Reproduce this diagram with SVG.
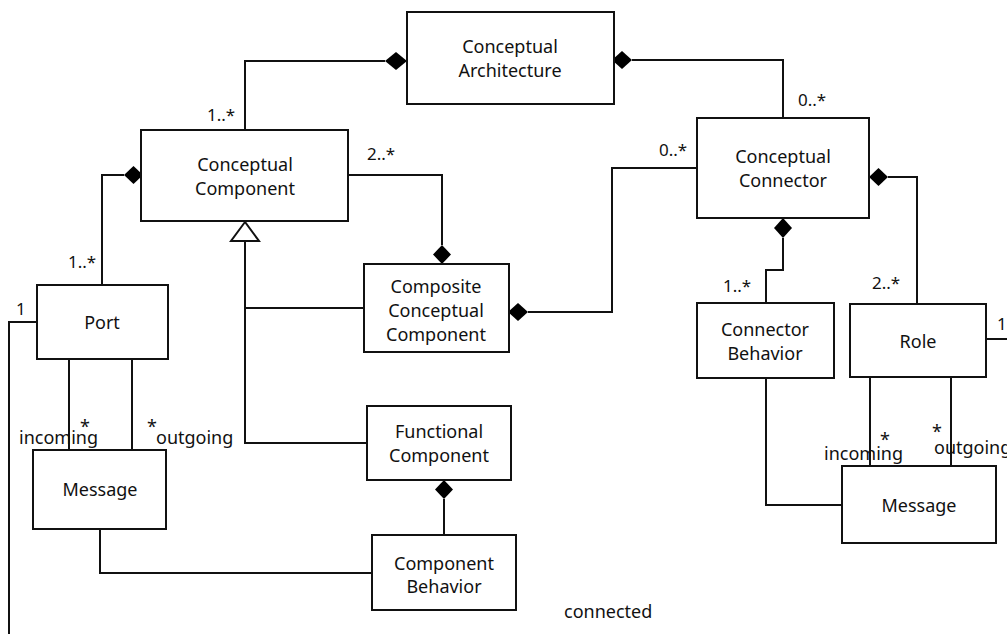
<svg xmlns="http://www.w3.org/2000/svg" width="1007" height="634" viewBox="0 0 1007 634">
<defs>
<style>
.box{fill:#fff;stroke:#111;stroke-width:2}
.ln{fill:none;stroke:#111;stroke-width:2}
.dia{fill:#000;stroke:none}
.tri{fill:#fff;stroke:#111;stroke-width:2}
text{font-family:"Noto Sans","Open Sans","Liberation Sans",sans-serif;font-size:18px;fill:#111}
.c{text-anchor:middle}
.lbl{font-size:17px}
</style>
</defs>
<rect width="1007" height="634" fill="#fff"/>
<g id="connectors">
<path class="ln" d="M385,61 H245 V130"/>
<polygon class="dia" points="407,61 396,52 385,61 396,70"/>
<path class="ln" d="M632,60 H783 V118"/>
<polygon class="dia" points="612,60 622,51 632,60 622,69"/>
<path class="ln" d="M348,175 H442 V245"/>
<polygon class="dia" points="442,264 433,254.5 442,245 451,254.5"/>
<path class="ln" d="M124,175 H102 V285"/>
<polygon class="dia" points="143,175 133.5,166 124,175 133.5,184"/>
<path class="ln" d="M245,241 V443 H367 M245,308 H364"/>
<polygon class="tri" points="245,222 231,241 259,241"/>
<path class="ln" d="M528,312 H612 V168 H697"/>
<polygon class="dia" points="508,312 518,303 528,312 518,321"/>
<path class="ln" d="M783,238 V270 H766 V303"/>
<polygon class="dia" points="783,218 774,228 783,238 792,228"/>
<path class="ln" d="M888,177 H917 V304"/>
<polygon class="dia" points="869,177 878.5,168 888,177 878.5,186"/>
<path class="ln" d="M986,339 H1007"/>
<path class="ln" d="M870,377 V466 M951,377 V466"/>
<path class="ln" d="M766,378 V505 H842"/>
<path class="ln" d="M37,322 H9 V634"/>
<path class="ln" d="M69,359 V450 M132,359 V450"/>
<path class="ln" d="M100,529 V573 H372"/>
<path class="ln" d="M444,499 V535"/>
<polygon class="dia" points="444,480 435,489.5 444,499 453,489.5"/>
</g>
<g id="conceptual-architecture">
<rect class="box" x="407" y="12" width="207" height="92"/>
<text class="c" x="510" y="53">Conceptual</text>
<text class="c" x="510" y="77">Architecture</text>
</g>
<g id="conceptual-component">
<rect class="box" x="141" y="130" width="207" height="91"/>
<text class="c" x="245" y="171">Conceptual</text>
<text class="c" x="245" y="195">Component</text>
</g>
<g id="composite-conceptual-component">
<rect class="box" x="364" y="264" width="145" height="88"/>
<text class="c" x="436" y="293">Composite</text>
<text class="c" x="436" y="317">Conceptual</text>
<text class="c" x="436" y="341">Component</text>
</g>
<g id="functional-component">
<rect class="box" x="367" y="406" width="144" height="74"/>
<text class="c" x="439" y="438">Functional</text>
<text class="c" x="439" y="462">Component</text>
</g>
<g id="component-behavior">
<rect class="box" x="372" y="535" width="144" height="75"/>
<text class="c" x="444" y="570">Component</text>
<text class="c" x="444" y="593">Behavior</text>
</g>
<g id="port">
<rect class="box" x="37" y="285" width="131" height="74"/>
<text class="c" x="102" y="329">Port</text>
</g>
<g id="message-left">
<rect class="box" x="33" y="450" width="133" height="79"/>
<text class="c" x="100" y="496">Message</text>
</g>
<g id="conceptual-connector">
<rect class="box" x="697" y="118" width="172" height="100"/>
<text class="c" x="783" y="163">Conceptual</text>
<text class="c" x="783" y="187">Connector</text>
</g>
<g id="connector-behavior">
<rect class="box" x="697" y="303" width="137" height="75"/>
<text class="c" x="765" y="336">Connector</text>
<text class="c" x="765" y="360">Behavior</text>
</g>
<g id="role">
<rect class="box" x="850" y="304" width="136" height="73"/>
<text class="c" x="918" y="348">Role</text>
</g>
<g id="message-right">
<rect class="box" x="842" y="466" width="154" height="77"/>
<text class="c" x="919" y="512">Message</text>
</g>
<g id="labels">
<text class="lbl" x="207" y="121">1..*</text>
<text class="lbl" x="367" y="160">2..*</text>
<text class="lbl" x="68" y="268">1..*</text>
<text class="lbl" x="16" y="315">1</text>
<text class="lbl" x="798" y="106">0..*</text>
<text class="lbl" x="659" y="156">0..*</text>
<text class="lbl" x="723" y="292">1..*</text>
<text class="lbl" x="872" y="289">2..*</text>
<text class="lbl" x="997" y="330">1</text>
<text x="19" y="444">incoming</text>
<text class="c" x="85" y="433">*</text>
<text class="c" x="152" y="433">*</text>
<text x="156" y="444">outgoing</text>
<text x="824" y="460">incoming</text>
<text class="c" x="885" y="446">*</text>
<text class="c" x="937" y="438">*</text>
<text x="934" y="454">outgoing</text>
<text x="564" y="618">connected</text>
</g>
</svg>
